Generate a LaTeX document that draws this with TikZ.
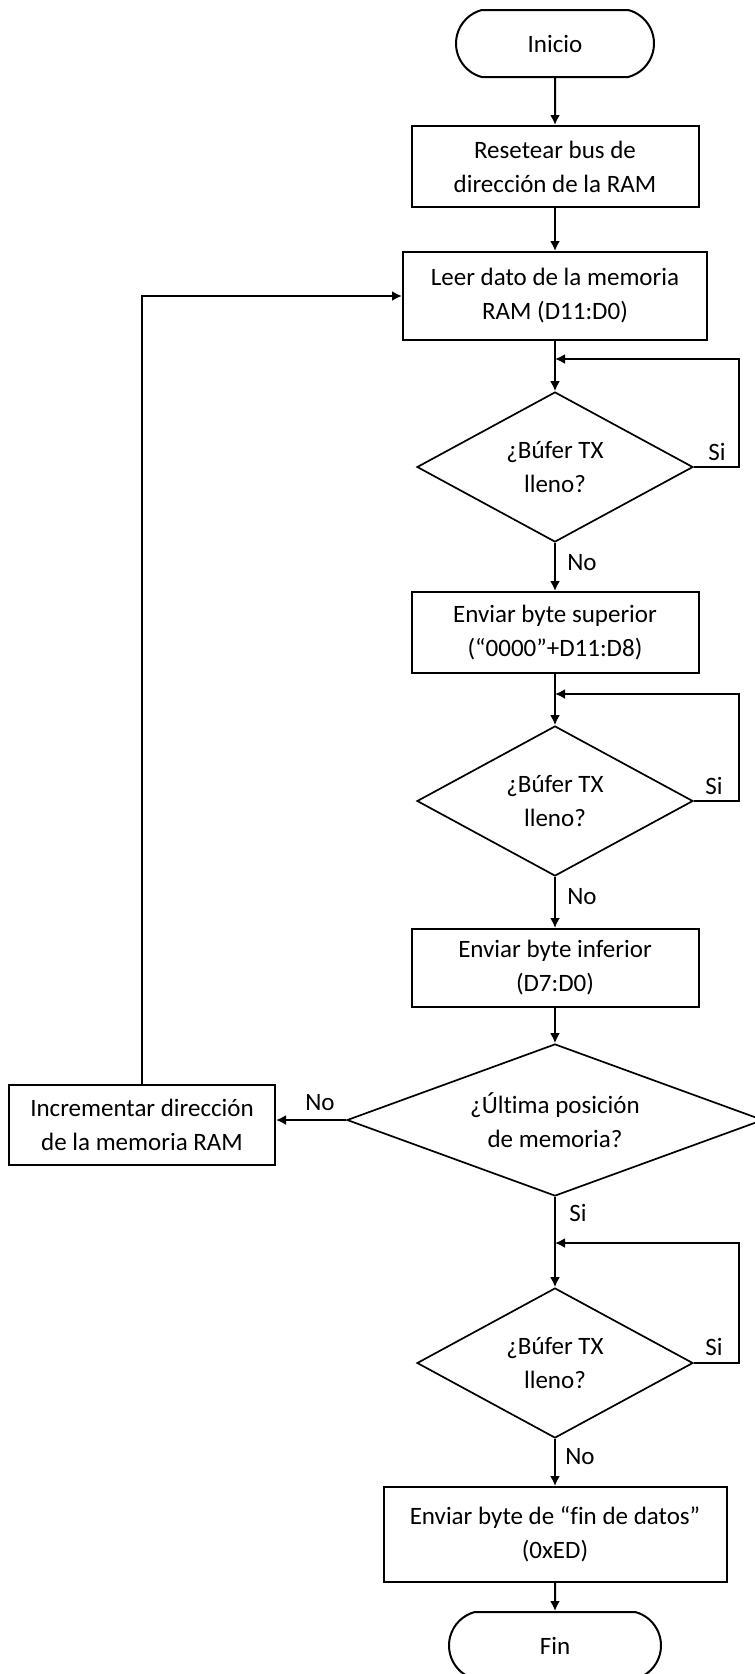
\documentclass[tikz,border=0pt]{standalone}
\usepackage{fontspec}
\setmainfont{Carlito}[Ligatures=NoCommon]
\usetikzlibrary{shapes.geometric,shapes.misc,arrows.meta,calc}
\begin{document}
\begin{tikzpicture}[x=1pt,y=-1pt,
  every node/.style={font=\fontsize{25}{34}\selectfont},
  proc/.style={draw,line width=2pt,rectangle,align=center,inner sep=0pt},
  term/.style={draw,line width=2pt,rounded rectangle,rounded rectangle arc length=150,align=center,inner sep=0pt},
  dec/.style={draw,line width=1.7pt,diamond,align=center,inner sep=0pt},
  conn/.style={line width=2pt,-{Latex[length=10pt,width=10pt]}},
  lbl/.style={inner sep=0pt}]
\useasboundingbox (0,0) rectangle (755,1674);
\clip (0,0) rectangle (755,1674);

\node[term, minimum width=198pt, minimum height=67pt] (inicio) at (555,43.5) {Inicio};
\node[proc, minimum width=287pt, minimum height=81pt] (reset) at (555,166.5) {Resetear bus de\\dirección de la RAM};
\node[proc, minimum width=304pt, minimum height=88pt] (leer) at (555,296) {Leer dato de la memoria\\RAM (D11:D0)};
\node[dec, minimum width=276pt, minimum height=150pt, aspect=1.84] (d1) at (555,467) {¿Búfer TX\\lleno?};
\node[proc, minimum width=287pt, minimum height=81pt] (sup) at (555,632.5) {Enviar byte superior\\(“0000”+D11:D8)};
\node[dec, minimum width=276pt, minimum height=150pt, aspect=1.84] (d2) at (555,801) {¿Búfer TX\\lleno?};
\node[proc, minimum width=287pt, minimum height=78pt] (inf) at (555,968) {Enviar byte inferior\\(D7:D0)};
\node[dec, minimum width=416pt, minimum height=152pt, aspect=2.7] (d3) at (555,1120) {¿Última posición\\de memoria?};
\node[proc, minimum width=266pt, minimum height=80pt] (incr) at (142,1125) {Incrementar dirección\\de la memoria RAM};
\node[dec, minimum width=276pt, minimum height=150pt, aspect=1.84] (d4) at (555,1363) {¿Búfer TX\\lleno?};
\node[proc, minimum width=343pt, minimum height=95pt] (finbox) at (555,1534.5) {Enviar byte de “fin de datos”\\(0xED)};
\node[term, minimum width=212pt, minimum height=67pt] (fin) at (555,1645.5) {Fin};

\coordinate (j1) at (555,359);
\coordinate (j2) at (555,694);
\coordinate (j4) at (555,1243);

\draw[conn] (inicio) -- (reset);
\draw[conn] (reset) -- (leer);
\draw[conn] (leer) -- (d1);
\draw[conn] (d1.east) -- ++(45,0) |- (j1);
\draw[conn] (d1) -- (sup);
\draw[conn] (sup) -- (d2);
\draw[conn] (d2.east) -- ++(45,0) |- (j2);
\draw[conn] (d2) -- (inf);
\draw[conn] (inf) -- (d3);
\draw[conn] (d3.west) -- (d3.west -| incr.east);
\draw[conn] (incr.north) |- (leer.west);
\draw[conn] (d3) -- (d4);
\draw[conn] (d4.east) -- ++(45,0) |- (j4);
\draw[conn] (d4) -- (finbox);
\draw[conn] (finbox) -- (fin);

\node[lbl] (si1) at (717,452) {Si};
\node[lbl] (no1) at (582,563) {No};
\node[lbl] (si2) at (714,786) {Si};
\node[lbl] (no2) at (582,897) {No};
\node[lbl] (no3) at (320,1103) {No};
\node[lbl] (si3) at (578,1213) {Si};
\node[lbl] (si4) at (714,1347) {Si};
\node[lbl] (no4) at (580,1457) {No};
\end{tikzpicture}
\end{document}
